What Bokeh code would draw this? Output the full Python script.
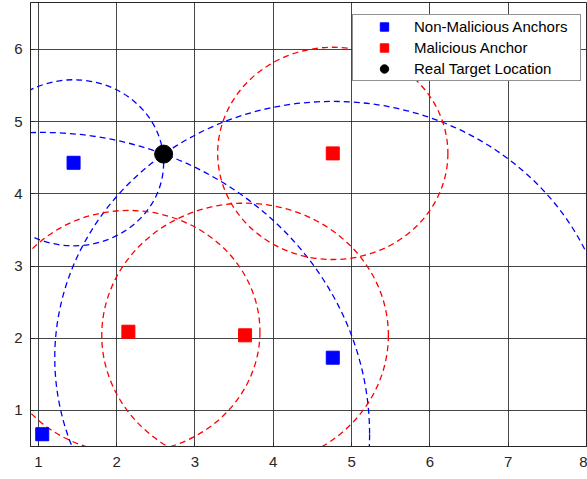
from bokeh.plotting import figure
from bokeh.models import Legend, LegendItem, FixedTicker, Range1d
from bokeh.embed import file_html
from bokeh.resources import INLINE

# Anchors and target
good_x = [1.45, 1.05, 4.76]
good_y = [4.43, 0.67, 1.73]
bad_x = [4.76, 2.15, 3.64]
bad_y = [4.56, 2.09, 2.04]
target_x = [2.60]
target_y = [4.55]
# measured ranges (circle radii)
good_r = [1.15, 4.18, 3.55]
bad_r = [1.47, 1.68, 1.83]

x_ticks = [1, 2, 3, 4, 5, 6, 7, 8]
y_ticks = [1, 2, 3, 4, 5, 6]

p = figure(width=587, height=479, output_backend="svg", toolbar_location=None,
           x_range=Range1d(0.9, 8.0), y_range=Range1d(0.5, 6.65),
           min_border_left=30, min_border_right=1, min_border_top=2, min_border_bottom=33)
p.background_fill_color = "white"
p.border_fill_color = "white"
p.outline_line_color = "#262626"
p.outline_line_width = 1

for ax, ticks in ((p.xaxis, x_ticks), (p.yaxis, y_ticks)):
    ax.ticker = FixedTicker(ticks=ticks)
    ax.major_label_text_font = "Liberation Sans"
    ax.major_label_text_font_size = "15px"
    ax.major_label_text_color = "#262626"
    ax.axis_line_color = "#262626"
    ax.major_tick_line_color = "#262626"
    ax.major_tick_in = 4
    ax.major_tick_out = 0
    ax.minor_tick_line_color = None
p.xaxis.major_label_standoff = 10
p.yaxis.major_label_standoff = 8

p.xgrid.ticker = FixedTicker(ticks=x_ticks)
p.ygrid.ticker = FixedTicker(ticks=y_ticks)
for g in (p.xgrid, p.ygrid):
    g.grid_line_color = "#262626"
    g.grid_line_alpha = 0.85
    g.grid_line_width = 1

p.ellipse(x=good_x, y=good_y, width=[2 * r for r in good_r], height=[2 * r for r in good_r],
          fill_color=None, line_color="blue", line_width=1.3, line_dash="6 4")
p.ellipse(x=bad_x, y=bad_y, width=[2 * r for r in bad_r], height=[2 * r for r in bad_r],
          fill_color=None, line_color="red", line_width=1.3, line_dash="6 4")

g1 = p.scatter(good_x, good_y, marker="square", size=13, fill_color="blue", line_color="blue")
g2 = p.scatter(bad_x, bad_y, marker="square", size=13, fill_color="red", line_color="red")
g3 = p.scatter(target_x, target_y, marker="circle", size=18, fill_color="black", line_color="black")

legend = Legend(items=[
    LegendItem(label="Non-Malicious Anchors", renderers=[g1]),
    LegendItem(label="Malicious Anchor", renderers=[g2]),
    LegendItem(label="Real Target Location", renderers=[g3]),
], location=(322, 365))
legend.label_text_font = "Liberation Sans"
legend.label_text_font_size = "15px"
legend.label_text_color = "black"
legend.padding = (3, 1)
legend.spacing = 0
legend.glyph_width = 56
legend.glyph_height = 21
legend.label_height = 21
legend.label_width = 163
legend.label_standoff = 2
legend.border_line_color = "#262626"
legend.border_line_width = 1
legend.background_fill_color = "white"
legend.background_fill_alpha = 1
legend.margin = 0
p.add_layout(legend, "center")

open("out.html", "w").write(file_html(p, INLINE))
